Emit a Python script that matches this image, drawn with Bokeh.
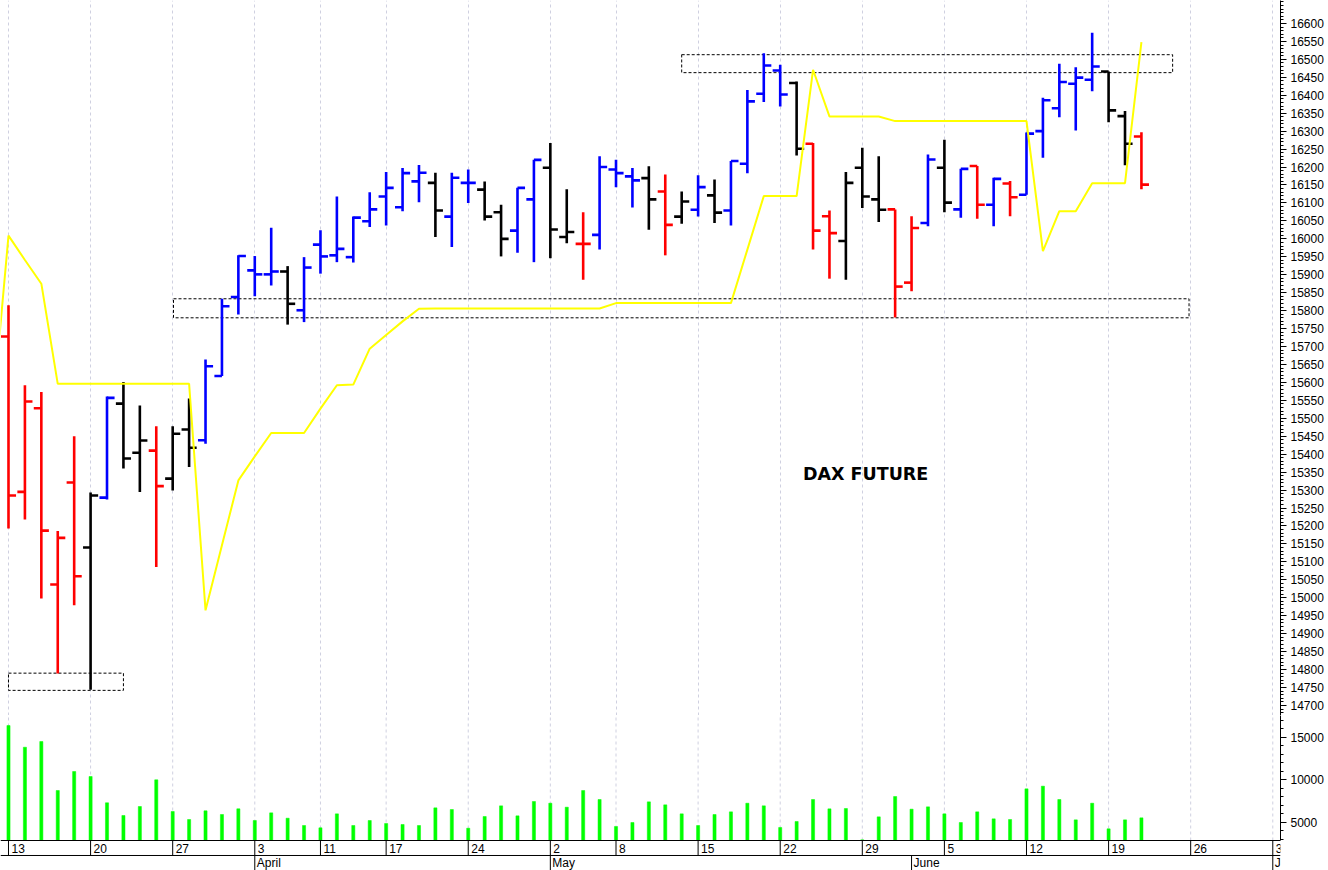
from bokeh.plotting import figure
from bokeh.layouts import column
from bokeh.models import Range1d, FixedTicker, Grid, Label, Span, ColumnDataSource
from bokeh.core.properties import value
from bokeh.embed import file_html
from bokeh.resources import INLINE

# ---------------- data ----------------
# trading-day index 0 = 13 March 2023 ... 69 = 21 June 2023
open_ = [15728, 15295, 15528, 15037, 15321, 15140, 15279, 15541, 15404, 15410,
         15332, 15469, 15439, 15618, 15838, 15912, 15901, 15909, 15801, 15984,
         15954, 15949, 16049, 16118, 16088, 16160, 16156, 16062, 16156, 16137,
         16074, 16023, 16110, 16198, 16005, 15986, 16011, 16193, 16174, 16169,
         16132, 16062, 16081, 16121, 16079, 16209, 16404, 16469, 16434, 16265,
         16063, 15994, 16198, 16110, 16082, 15878, 16044, 16198, 16082, 16203,
         16095, 16154, 16123, 16300, 16364, 16432, 16443, 16466, 16342, 16285]
high = [15815, 15592, 15573, 15186, 15450, 15293, 15561, 15601, 15536, 15478,
        15478, 15555, 15664, 15833, 15954, 15952, 16031, 15924, 15949, 16024,
        16118, 16062, 16130, 16186, 16197, 16206, 16184, 16184, 16193, 16160,
        16095, 16142, 16220, 16267, 16138, 16074, 16230, 16220, 16197, 16202,
        16179, 16132, 16177, 16165, 16217, 16415, 16517, 16485, 16438, 16267,
        16079, 16186, 16254, 16230, 16082, 16063, 16235, 16276, 16195, 16203,
        16170, 16161, 16296, 16393, 16488, 16478, 16574, 16466, 16356, 16297]
low = [15193, 15218, 14998, 14789, 14979, 14744, 15274, 15360, 15295, 15086,
       15299, 15364, 15429, 15618, 15789, 15840, 15870, 15761, 15768, 15903,
       15935, 15934, 16033, 16037, 16077, 16102, 16005, 15977, 16100, 16051,
       15951, 15961, 15935, 15946, 15988, 15886, 15970, 16144, 16087, 16025,
       15954, 16042, 16062, 16044, 16037, 16183, 16381, 16369, 16232, 15970,
       15889, 15886, 16086, 16047, 15781, 15854, 16035, 16074, 16059, 16056,
       16035, 16063, 16123, 16226, 16339, 16302, 16411, 16325, 16205, 16138]
close = [15285, 15547, 15187, 15167, 15060, 15285, 15557, 15388, 15438, 15311,
         15457, 15418, 15645, 15812, 15952, 15901, 15909, 15819, 15920, 15951,
         15972, 16059, 16082, 16142, 16183, 16184, 16079, 16170, 16156, 16062,
         16000, 16142, 16220, 16026, 16019, 15986, 16200, 16183, 16163, 16110,
         16039, 16104, 16144, 16073, 16217, 16383, 16483, 16402, 16251, 16023,
         16016, 16156, 16118, 16081, 15867, 16030, 16221, 16101, 16195, 16095,
         16167, 16116, 16293, 16386, 16437, 16449, 16480, 16358, 16265, 16151]
bar_state = ["r", "r", "r", "r", "r", "k", "b", "k", "k", "r",
             "k", "k", "b", "b", "b", "b", "b", "k", "b", "b",
             "b", "b", "b", "b", "b", "b", "k", "b", "b", "k",
             "k", "b", "b", "k", "k", "r", "b", "b", "b", "k",
             "r", "k", "b", "k", "b", "b", "b", "b", "k", "r",
             "r", "k", "k", "k", "r", "r", "b", "k", "b", "r",
             "b", "r", "b", "b", "b", "b", "b", "k", "k", "r"]
volume = [16407, 13855, 14526, 8763, 10998, 10410, 7317, 5823, 6882, 10019,
          6294, 5353, 6372, 5941, 6607, 5235, 6137, 5506, 4647, 4376,
          6019, 4647, 5235, 4882, 4765, 4647, 6725, 6529, 4329, 5706,
          6960, 5784, 7470, 7270, 6800, 8763, 7705, 4530, 5000, 7431,
          7078, 6019, 4647, 5941, 6254, 7270, 6960, 4412, 5118, 7705,
          6607, 6646, 2965, 5667, 8058, 6568, 6842, 6019, 5000, 6254,
          5431, 5353, 8960, 9274, 7705, 5313, 7270, 4258, 5313, 5549]

# yellow indicator line (starts one session before the first visible bar)
line_idx = list(range(-1, 70))
line_val = [15500, 16009, 15941, 15875, 15596, 15596, 15596, 15596, 15596, 15596,
            15596, 15596, 15596, 14965, 15146, 15327, 15394, 15459, 15459, 15459,
            15527, 15592, 15594, 15694, 15732, 15770, 15805, 15806, 15806, 15806,
            15806, 15806, 15806, 15806, 15806, 15806, 15806, 15806, 15821, 15821,
            15821, 15821, 15821, 15821, 15821, 15821, 15970, 16119, 16119, 16119,
            16471, 16341, 16341, 16341, 16341, 16328, 16328, 16328, 16328, 16328,
            16328, 16328, 16328, 16328, 15966, 16077, 16077, 16155, 16155, 16155,
            16548]

# dashed support / resistance zones
zone_start = [0, 10.05, 41.0]
zone_end = [7.0, 71.9, 70.9]
zone_low = [14742, 15780, 16463]
zone_high = [14790, 15833, 16513]

# date axis
week_idx = [0, 5, 10, 15, 19, 23, 28, 33, 37, 42, 47, 52, 57, 62, 67, 72, 77]
week_lbl = ["13", "20", "27", "3", "11", "17", "24", "2", "8", "15", "22", "29",
            "5", "12", "19", "26", "3"]
month_idx = [15, 33, 55, 77]
month_lbl = ["April", "May", "June", "J"]

price_ticks = list(range(14700, 16601, 50))
price_minor = list(range(14680, 16661, 10))
vol_ticks = [5000, 10000, 15000]
vol_minor = list(range(3000, 17001, 1000))

title_text = "DAX FUTURE"
title_x, title_y = 52.2, 15346

# ---------------- styling ----------------
cmap = {"r": "#ff0000", "b": "#0000ff", "k": "#000000"}
FONT = "Liberation Sans"
W = 1328
H_PRICE = 715
H_VOL = 155
RIGHT = 48

idx = list(range(len(open_)))
src = ColumnDataSource(dict(
    x=idx,
    xl=[i - 0.46 for i in idx],
    xr=[i + 0.46 for i in idx],
    o=open_, h=high, l=low, c=close,
    col=[cmap[s] for s in bar_state],
    v=volume,
))

x_range = Range1d(-0.487, 77.47)


def style_axis(ax):
    ax.major_tick_in = 0
    ax.major_tick_out = 6
    ax.minor_tick_in = 0
    ax.minor_tick_out = 3
    ax.major_label_standoff = 4
    ax.axis_label_standoff = 0
    ax.major_label_text_font = FONT
    ax.major_label_text_font_size = "12px"
    ax.major_label_text_color = "black"
    ax.axis_line_color = "black"
    ax.major_tick_line_color = "black"
    ax.minor_tick_line_color = "black"


# ---------------- price panel ----------------
p = figure(width=W, height=H_PRICE, x_range=x_range, y_range=Range1d(14672, 16664),
           x_axis_location=None, y_axis_location="right",
           output_backend="svg", toolbar_location=None,
           min_border_left=0, min_border_top=0, min_border_bottom=0, min_border_right=RIGHT)
p.outline_line_color = None
p.grid.visible = False
p.background_fill_color = "white"
p.border_fill_color = "white"
p.add_layout(Grid(dimension=0, ticker=FixedTicker(ticks=week_idx),
                  grid_line_color="#cfd0e0", grid_line_dash="3 3", grid_line_width=1))

ya = p.yaxis[0]
ya.ticker = FixedTicker(ticks=price_ticks, minor_ticks=price_minor)
style_axis(ya)

# zones
p.quad(left=zone_start, right=zone_end, bottom=zone_low, top=zone_high,
       fill_color=None, line_color="black", line_dash="3 2", line_width=1)

# OHLC bars
p.segment(x0="x", y0="l", x1="x", y1="h", color="col", line_width=2.6, source=src)
p.segment(x0="xl", y0="o", x1="x", y1="o", color="col", line_width=2.6, source=src)
p.segment(x0="x", y0="c", x1="xr", y1="c", color="col", line_width=2.6, source=src)

# yellow line
p.line(line_idx, line_val, line_color="#ffff00", line_width=2)

p.add_layout(Label(x=title_x, y=title_y, text=title_text, text_font="DejaVu Sans",
                   text_font_style="bold", text_font_size="17.5px",
                   text_align="center", text_baseline="middle", text_color="black"))

# ---------------- volume panel + date axis ----------------
VOL_BASE = 2882
VOL_TOP = 17588
ROW_SPLIT = 1118
VOL_BOTTOM = -647
p2 = figure(width=W, height=H_VOL, x_range=x_range, y_range=Range1d(VOL_BOTTOM, VOL_TOP),
            x_axis_location=None, y_axis_location="right",
            output_backend="svg", toolbar_location=None,
            min_border_left=0, min_border_top=0, min_border_bottom=0, min_border_right=RIGHT)
p2.outline_line_color = None
p2.grid.visible = False
p2.background_fill_color = "white"
p2.border_fill_color = "white"

va = p2.yaxis[0]
va.ticker = FixedTicker(ticks=vol_ticks, minor_ticks=vol_minor)
va.bounds = (VOL_BASE, VOL_TOP)
style_axis(va)

# weekly dashed grid in the volume panel
p2.segment(x0=week_idx, y0=[VOL_BASE] * len(week_idx), x1=week_idx, y1=[VOL_TOP] * len(week_idx),
           line_color="#cfd0e0", line_dash="3 3", line_width=1)

p2.vbar(x="x", top="v", bottom=VOL_BASE, width=0.19, fill_color="#00ff00",
        line_color="#00ff00", line_width=0.5, source=src)

# date axis lines
p2.add_layout(Span(location=VOL_BASE, dimension="width", line_color="black", line_width=1))
p2.add_layout(Span(location=ROW_SPLIT, dimension="width", line_color="black", line_width=1))
p2.segment(x0=week_idx, y0=[VOL_BASE] * len(week_idx), x1=week_idx, y1=[ROW_SPLIT] * len(week_idx),
           line_color="black", line_width=1)
p2.segment(x0=month_idx, y0=[ROW_SPLIT] * len(month_idx), x1=month_idx,
           y1=[VOL_BOTTOM] * len(month_idx), line_color="black", line_width=1)
p2.text(x=week_idx, y=[(VOL_BASE + ROW_SPLIT) / 2] * len(week_idx), text=week_lbl,
        text_font=value(FONT), text_font_size="12px", text_align="left",
        text_baseline="middle", x_offset=3, text_color="black")
p2.text(x=month_idx, y=[(ROW_SPLIT + VOL_BOTTOM) / 2] * len(month_idx), text=month_lbl,
        text_font=value(FONT), text_font_size="12px", text_align="left",
        text_baseline="middle", x_offset=2, text_color="black")

# multiplier tag of the volume scale, just right of the plot frame
p2.add_layout(Label(x=1283, y=31, x_units="screen", y_units="screen", text="x10",
                    text_font=FONT, text_font_size="8px", text_baseline="bottom",
                    text_align="left", border_line_color="black", border_line_width=1,
                    padding=1))

layout = column(p, p2, spacing=0)
open("out.html", "w").write(file_html(layout, INLINE))
